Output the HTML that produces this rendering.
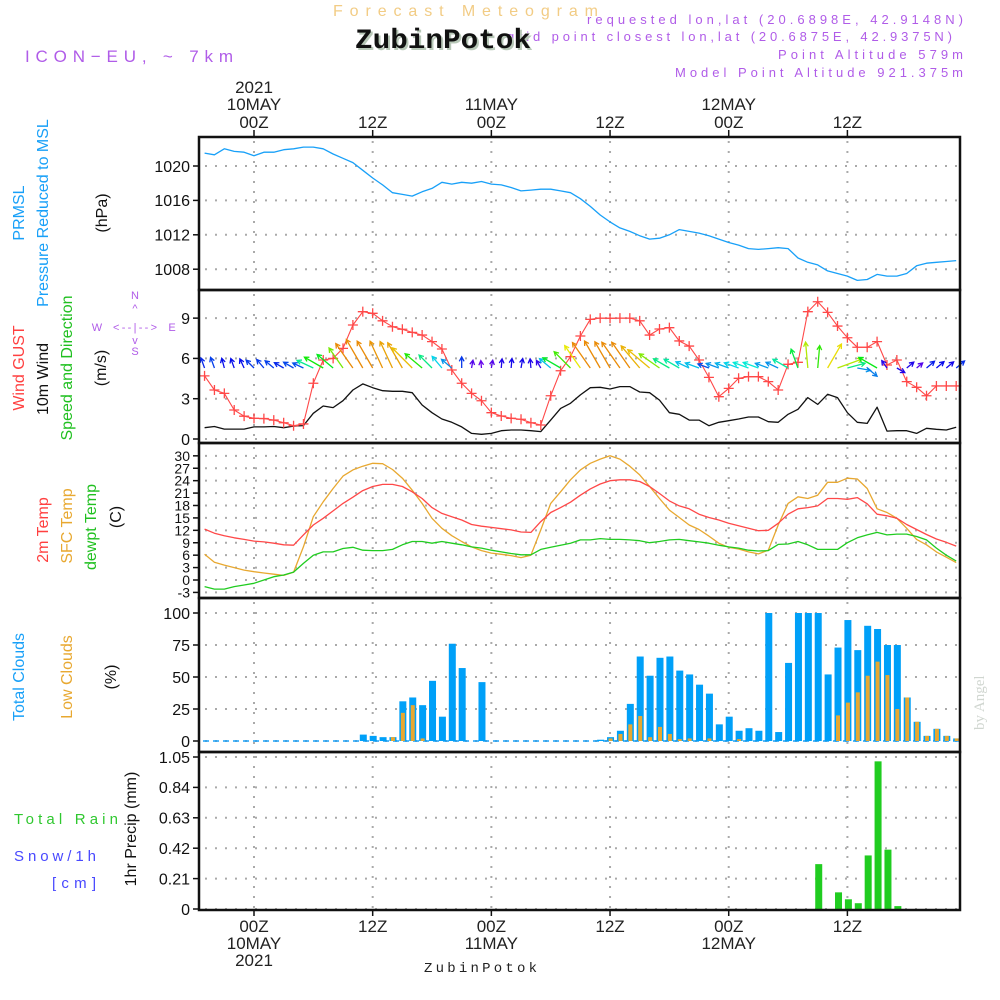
<!DOCTYPE html>
<html><head><meta charset="utf-8"><title>Meteogram ZubinPotok</title>
<style>
html,body{margin:0;padding:0;background:#fff;}
svg{display:block;font-family:"Liberation Sans",sans-serif;}
</style></head>
<body>
<svg id="chart" xmlns="http://www.w3.org/2000/svg" width="1000" height="1000" viewBox="0 0 1000 1000">
<rect x="0" y="0" width="1000" height="1000" fill="#fff"/>
<text x="333" y="16" font-size="16" fill="#f2cc85" textLength="265" lengthAdjust="spacing">Forecast Meteogram</text>
<text x="963" y="24" font-size="13" fill="#b05ce8" text-anchor="end" textLength="376" lengthAdjust="spacing">requested lon,lat (20.6898E, 42.9148N)</text>
<text x="952" y="41" font-size="13" fill="#b05ce8" text-anchor="end" textLength="445" lengthAdjust="spacing">grid point closest lon,lat (20.6875E, 42.9375N)</text>
<text x="357" y="50" font-family="Liberation Mono, monospace" font-weight="bold" font-size="28" fill="#b8c8b8" textLength="176" lengthAdjust="spacingAndGlyphs">ZubinPotok</text>
<text x="355" y="48" font-family="Liberation Mono, monospace" font-weight="bold" font-size="28" fill="#111" textLength="176" lengthAdjust="spacingAndGlyphs">ZubinPotok</text>
<text x="963" y="59" font-size="13" fill="#b05ce8" text-anchor="end" textLength="185" lengthAdjust="spacing">Point Altitude 579m</text>
<text x="963" y="77" font-size="13" fill="#b05ce8" text-anchor="end" textLength="288" lengthAdjust="spacing">Model Point Altitude 921.375m</text>
<text x="25" y="62" font-size="17" fill="#b05ce8" textLength="208" lengthAdjust="spacing">ICON−EU, ~ 7km</text>
<text transform="translate(984,730) rotate(-90)" font-family="Liberation Serif, serif" font-size="15" fill="#d0d6d0">by Angel</text>

<g font-size="16">
<text transform="translate(24,213) rotate(-90)" text-anchor="middle" fill="#18a0f8">PRMSL</text>
<text transform="translate(48,213) rotate(-90)" text-anchor="middle" fill="#18a0f8">Pressure Reduced to MSL</text>
<text transform="translate(107,213) rotate(-90)" text-anchor="middle" fill="#111">(hPa)</text>
<text transform="translate(24,368) rotate(-90)" text-anchor="middle" fill="#ff4040">Wind GUST</text>
<text transform="translate(48,379) rotate(-90)" text-anchor="middle" fill="#111">10m Wind</text>
<text transform="translate(72,368) rotate(-90)" text-anchor="middle" fill="#20c020">Speed and Direction</text>
<text transform="translate(106,368) rotate(-90)" text-anchor="middle" fill="#111">(m/s)</text>
<text transform="translate(48,530) rotate(-90)" text-anchor="middle" fill="#ff4040">2m Temp</text>
<text transform="translate(72,526) rotate(-90)" text-anchor="middle" fill="#e8a830">SFC Temp</text>
<text transform="translate(96,527) rotate(-90)" text-anchor="middle" fill="#20c020">dewpt Temp</text>
<text transform="translate(121,517) rotate(-90)" text-anchor="middle" fill="#111">(C)</text>
<text transform="translate(24,677) rotate(-90)" text-anchor="middle" fill="#18a0f8">Total Clouds</text>
<text transform="translate(72,677) rotate(-90)" text-anchor="middle" fill="#e8a830">Low Clouds</text>
<text transform="translate(116,677) rotate(-90)" text-anchor="middle" fill="#111">(%)</text>
<text transform="translate(136,829) rotate(-90)" text-anchor="middle" fill="#111">1hr Precip (mm)</text>
<text x="14" y="824" font-size="15" fill="#30c830" textLength="104" lengthAdjust="spacing">Total  Rain</text>
<text x="14" y="861" font-size="15" fill="#4848ff" textLength="82" lengthAdjust="spacing">Snow/1h</text>
<text x="52" y="888" font-size="15" fill="#4848ff" textLength="44" lengthAdjust="spacing">[cm]</text>
</g>
<g font-size="11" fill="#b05ce8" text-anchor="middle">
<text x="135" y="299">N</text><text x="135" y="312">^</text>
<text x="97" y="331">W</text><text x="135" y="331" textLength="44" lengthAdjust="spacing">&lt;--|--&gt;</text><text x="172" y="331">E</text>
<text x="135" y="344">v</text><text x="135" y="355">S</text>
</g>
<g id="plot"></g>
<text x="424" y="972" font-family="Liberation Mono, monospace" font-size="14" fill="#222" textLength="113" lengthAdjust="spacing">ZubinPotok</text>
</svg>
<script>
const hours = [-5,-4,-3,-2,-1,0,1,2,3,4,5,6,7,8,9,10,11,12,13,14,15,16,17,18,19,20,21,22,23,24,25,26,27,28,29,30,31,32,33,34,35,36,37,38,39,40,41,42,43,44,45,46,47,48,49,50,51,52,53,54,55,56,57,58,59,60,61,62,63,64,65,66,67,68,69,70,71];
const pressure = [1021.5,1021.3,1022.0,1021.7,1021.6,1021.2,1021.6,1021.6,1021.9,1022.0,1022.2,1022.2,1022.0,1021.4,1020.9,1020.4,1019.5,1018.6,1017.8,1016.9,1016.7,1016.5,1017.0,1017.4,1018.1,1017.9,1018.1,1018.0,1018.2,1017.9,1017.8,1017.5,1017.1,1017.2,1017.3,1017.3,1017.1,1016.9,1016.2,1015.3,1014.3,1013.5,1012.8,1012.4,1011.9,1011.5,1011.6,1012.0,1012.6,1012.4,1012.2,1011.9,1011.5,1011.1,1010.8,1010.4,1010.3,1010.4,1010.5,1010.4,1009.3,1008.8,1008.5,1007.8,1007.5,1007.2,1006.7,1006.8,1007.4,1007.2,1007.2,1007.5,1008.4,1008.7,1008.8,1008.9,1009.0];
const gust = [4.7,3.65,3.4,2.16,1.7,1.54,1.52,1.41,1.21,0.99,1.12,4.15,5.88,6.0,6.75,8.49,9.48,9.36,8.8,8.36,8.17,7.94,7.74,7.25,6.7,5.14,4.15,3.4,2.85,1.96,1.71,1.54,1.47,1.21,1.04,3.22,5.08,6.13,7.67,8.91,9.0,8.99,9.0,9.0,8.8,7.74,8.19,8.29,7.3,6.92,5.88,4.59,3.15,3.77,4.52,4.64,4.64,4.27,3.65,5.56,5.71,9.48,10.22,9.43,8.41,7.54,6.83,6.83,7.25,5.51,5.88,4.27,3.85,3.22,3.95,3.95,3.95];
const windSpeed = [0.84,0.93,0.74,0.74,0.74,0.9,0.9,0.93,0.84,0.96,1.0,1.91,2.46,2.34,2.85,3.65,4.1,3.82,3.6,3.55,3.55,3.45,2.53,1.96,1.49,1.24,0.9,0.42,0.35,0.42,0.62,0.67,0.67,0.62,0.55,1.41,2.28,2.66,3.28,3.82,3.85,3.72,3.9,3.9,3.5,3.45,2.9,1.96,1.84,1.41,1.41,0.99,1.24,1.36,1.49,1.64,1.64,1.29,1.24,1.84,2.21,3.08,2.58,3.33,3.08,1.96,1.24,1.16,2.37,0.59,0.62,0.62,0.42,0.8,0.72,0.67,0.87];
const windDir = [110,110,105,110,115,135,130,140,150,150,155,155,150,140,125,125,120,120,115,115,120,135,140,135,130,140,90,80,95,80,85,85,80,95,120,140,150,135,125,125,120,120,125,125,130,140,145,150,150,155,160,160,160,160,160,160,160,160,155,150,110,95,85,60,20,15,-10,-40,150,125,-30,40,40,40,40,40,40];
const temp2m = [12.3,11.3,10.7,10.2,9.8,9.4,9.2,8.9,8.5,8.4,10.9,13.3,14.9,16.7,18.5,20.0,21.6,22.6,23.1,23.1,22.6,21.3,19.7,17.5,16.1,15.3,14.5,13.4,13.0,12.7,12.4,12.1,11.6,11.5,14.1,16.3,17.5,18.8,20.5,22.0,23.2,24.0,24.2,24.2,23.8,22.6,20.9,19.1,17.9,17.2,15.9,15.1,14.5,13.7,13.1,12.5,11.9,12.0,13.7,15.9,17.2,17.5,17.9,19.7,19.7,19.5,19.9,18.4,15.9,15.5,14.9,13.4,12.2,11.0,9.9,9.1,8.2];
const tempSfc = [6.2,4.3,3.6,3.0,2.4,2.0,1.7,1.4,1.1,1.9,8.0,15.3,18.9,22.1,25.1,26.6,27.5,28.2,28.1,26.7,24.6,21.7,18.5,14.9,12.5,10.7,9.3,8.0,7.1,6.5,6.2,5.9,5.4,6.0,12.1,18.5,21.3,24.2,26.6,28.2,29.2,30.0,29.2,27.5,25.4,22.6,19.7,16.9,15.1,13.3,12.2,10.6,8.9,7.9,7.5,6.8,6.3,7.2,13.3,18.5,20.1,19.7,20.5,23.6,23.6,24.6,24.4,22.1,17.2,16.3,14.9,12.5,9.8,8.5,6.8,5.5,4.2];
const dewpt = [-1.6,-2.2,-2.2,-1.6,-1.2,-0.8,0,0.8,1.2,1.9,4.0,6.0,6.8,6.8,7.6,7.9,7.2,7.1,7.1,7.4,8.5,9.3,9.3,8.9,9.3,8.9,8.5,8.0,7.7,7.2,6.8,6.4,6.1,6.1,7.4,7.9,8.4,8.9,9.7,9.7,10.0,9.8,9.8,9.7,9.5,9.0,9.3,9.7,9.8,9.5,9.2,8.9,8.4,8.0,7.7,7.2,7.0,7.1,8.6,8.7,9.3,8.5,7.4,7.4,7.4,9.0,10.2,10.9,11.5,10.9,11.1,11.1,10.5,9.7,7.7,6.0,4.6];
const totalClouds = [0,0,0,0,0,0,0,0,0,0,0,0,0,0,0,0,5,4,3,3,31,34,28,47,19,76,57,0,46,0,0,0,0,0,0,0,0,0,0,0,1,3,8,29,66,51,65,66,55,52,44,37,13,19,8,10,8,100,7,61,100,100,100,52,73,94.5,71,90,87.5,75,75,34,15,4,9.5,4,2];
const lowClouds = [0,0,0,0,0,0,0,0,0,0,0,0,0,0,0,0,0,0,0,3,22,28,2,0,0,0,0,0,0,0,0,0,0,0,0,0,0,0,0,0,0,2,5.5,13,19.5,3,11,5.5,1.5,2,0,2,0,0,1.5,0,0,0,0,0,0,0,0,0,20,30,38,51,62,51.5,25,34,15,4,9.5,4,2];
const precip = [0,0,0,0,0,0,0,0,0,0,0,0,0,0,0,0,0,0,0,0,0,0,0,0,0,0,0,0,0,0,0,0,0,0,0,0,0,0,0,0,0,0,0,0,0,0,0,0,0,0,0,0,0,0,0,0,0,0,0,0,0,0,0.31,0,0.115,0.067,0.04,0.37,1.02,0.41,0.02,0,0,0,0,0,0];
const pTicks = [1008,1012,1016,1020];
const wTicks = [0,3,6,9];
const tTicks = [-3,0,3,6,9,12,15,18,21,24,27,30];
const cTicks = [0,25,50,75,100];
const rTicks = [0,0.21,0.42,0.63,0.84,1.05];
const rTickLabels = ['0','0.21','0.42','0.63','0.84','1.05'];
const timeTicks = [0,12,24,36,48,60];
const timeLabels = ['00Z','12Z','00Z','12Z','00Z','12Z'];
const dayLabels = ['10MAY','','11MAY','','12MAY',''];

const NS='http://www.w3.org/2000/svg';
const plot=document.getElementById('plot');
const X0=199, X1=960;
function xs(h){return 254 + h*9.89;}
function yP(p){return 166 + (1020-p)*8.6;}
function yW(v){return 439 - v*13.43;}
function yT(t){return 580 - t*4.139;}
function yC(c){return 741 - c*1.28;}
function yR(r){return 909 - r*144.76;}
function el(tag, attrs, parent){const e=document.createElementNS(NS,tag);for(const k in attrs)e.setAttribute(k,attrs[k]);(parent||plot).appendChild(e);return e;}

const panels=[[137,290,'pressure-panel'],[290,443,'wind-panel'],[443,598,'temperature-panel'],[598,752,'cloud-panel'],[752,910,'precip-panel']];
function hgrid(ticks, yf){
  ticks.forEach(v=>{
    const g=el('line',{x1:X0+6,x2:X1,y1:yf(v),y2:yf(v),stroke:'#aaa','stroke-width':2,'stroke-dasharray':'2 8'});
    
    
    const t=el('line',{x1:X0-6,x2:X0,y1:yf(v),y2:yf(v),stroke:'#111','stroke-width':1.5});
    
    
  });
}
panels.forEach(p=>{
  timeTicks.forEach(h=>{
    const g=el('line',{x1:xs(h),x2:xs(h),y1:p[0]+4,y2:p[1]-2,stroke:'#aaa','stroke-width':2,'stroke-dasharray':'2 8'});
    
    
  });
});
hgrid(pTicks,yP);hgrid(wTicks,yW);hgrid(tTicks,yT);hgrid(cTicks,yC);hgrid(rTicks,yR);

function ylabels(ticks, yf, labels, fs, name){
  ticks.forEach((v,i)=>{
    const t=el('text',{x:190,y:yf(v)+fs*0.36,'font-size':fs,'text-anchor':'end',fill:'#111'});
    t.textContent=labels?labels[i]:String(v);
    
    
  });
}
ylabels(pTicks,yP,null,16,'pressure-tick-label');
ylabels(wTicks,yW,null,16,'wind-tick-label');
ylabels(tTicks,yT,null,14,'temp-tick-label');
ylabels(cTicks,yC,null,16,'cloud-tick-label');
ylabels(rTicks,yR,rTickLabels,16,'precip-tick-label');

timeTicks.forEach((h,i)=>{
  const tk=el('line',{x1:xs(h),x2:xs(h),y1:130,y2:137,stroke:'#111','stroke-width':1.5});
  
  
  const bk=el('line',{x1:xs(h),x2:xs(h),y1:910,y2:916,stroke:'#111','stroke-width':1.5});
  
  
  const t=el('text',{x:xs(h),y:128,'font-size':17,'text-anchor':'middle',fill:'#222'});
  t.textContent=timeLabels[i];
  
  
  const b=el('text',{x:xs(h),y:932,'font-size':17,'text-anchor':'middle',fill:'#222'});
  b.textContent=timeLabels[i];
  
  
  if(dayLabels[i]){
    const d=el('text',{x:xs(h),y:110,'font-size':17,'text-anchor':'middle',fill:'#222'});
    d.textContent=dayLabels[i];
    
    
    const d2=el('text',{x:xs(h),y:949,'font-size':17,'text-anchor':'middle',fill:'#222'});
    d2.textContent=dayLabels[i];
    
    
  }
});
const y1=el('text',{x:xs(0),y:93,'font-size':17,'text-anchor':'middle',fill:'#222'});
y1.textContent='2021';


const y2=el('text',{x:xs(0),y:966,'font-size':17,'text-anchor':'middle',fill:'#222'});
y2.textContent='2021';



const cb=el('line',{x1:X0+4,x2:X1,y1:yC(0),y2:yC(0),stroke:'#18a0f8','stroke-width':1.5,'stroke-dasharray':'6 4'});


hours.forEach((h,i)=>{
  if(totalClouds[i]>0){
    const r=el('rect',{x:xs(h)-3,y:yC(totalClouds[i]),width:7,height:yC(0)-yC(totalClouds[i]),fill:'#00a0f8'});
    
    
  }
  if(lowClouds[i]>0){
    const r=el('rect',{x:xs(h)-1.5,y:yC(lowClouds[i]),width:4,height:yC(0)-yC(lowClouds[i]),fill:'#e8a830'});
    
    
  }
  if(precip[i]>0){
    const r=el('rect',{x:xs(h)-2.5,y:yR(precip[i]),width:7,height:yR(0)-yR(precip[i]),fill:'#20cc20'});
    
    
  }
});

function line(arr, yf, color, name, w){
  const pts=hours.map((h,i)=>xs(h).toFixed(1)+','+yf(arr[i]).toFixed(1)).join(' ');
  const p=el('polyline',{points:pts,fill:'none',stroke:color,'stroke-width':w||1.3,'stroke-linejoin':'round'});
  
  
}
line(pressure,yP,'#18a0f8','pressure-line');
line(windSpeed,yW,'#111','wind-speed-line');
line(tempSfc,yT,'#e8a830','sfc-temp-line');
line(temp2m,yT,'#ff4848','temp-2m-line');
line(dewpt,yT,'#20cc20','dewpoint-line');
line(gust,yW,'#ff4848','gust-line',1.1);
hours.forEach((h,i)=>{
  const cx=xs(h), cy=yW(gust[i]);
  const m=el('path',{d:`M${cx-5} ${cy}H${cx+5}M${cx} ${cy-5}V${cy+5}`,stroke:'#ff4848','stroke-width':1.3,fill:'none'});
  
  
});
hours.forEach((h,i)=>{
  const s=windSpeed[i], a=windDir[i]*Math.PI/180;
  const len=5+s*6.8;
  const x0=xs(h), yb=368;
  const x1=x0+len*Math.cos(a), yy=yb-len*Math.sin(a);
  const hue=Math.max(35,290-s*70);
  const col=`hsl(${hue},95%,47%)`;
  const b1=a+Math.PI-0.5, b2=a+Math.PI+0.5, hl=5;
  const p=el('path',{d:`M${x0} ${yb}L${x1} ${yy}M${x1+hl*Math.cos(b1)} ${yy-hl*Math.sin(b1)}L${x1} ${yy}L${x1+hl*Math.cos(b2)} ${yy-hl*Math.sin(b2)}`,stroke:col,'stroke-width':1.3,fill:'none'});
  
  
});
panels.forEach(p=>{
  const r=el('rect',{x:X0,y:p[0],width:X1-X0,height:p[1]-p[0],fill:'none',stroke:'#111','stroke-width':2.5});
  
  
});
</script>
</body></html>
